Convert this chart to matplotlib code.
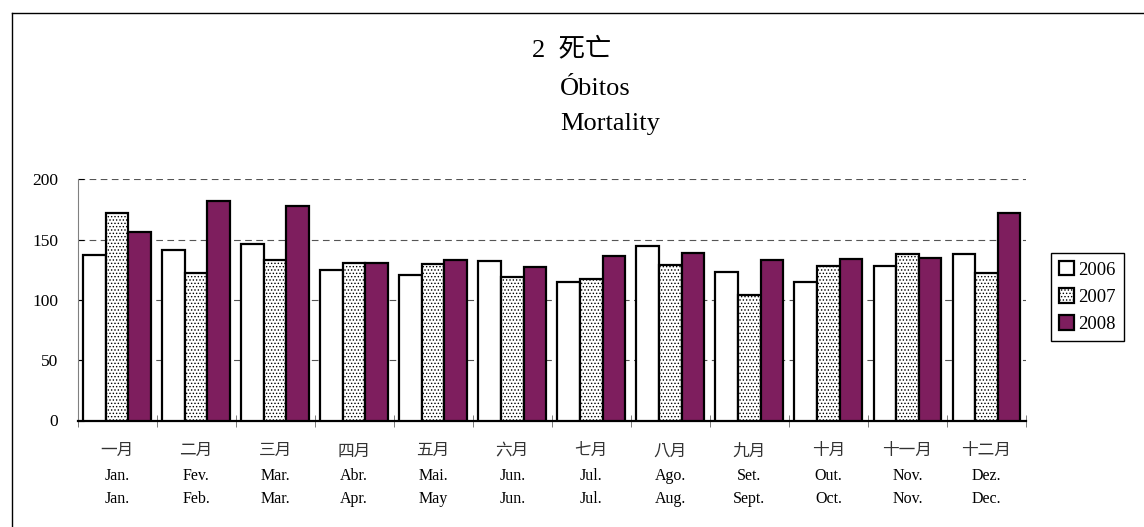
import matplotlib
matplotlib.use('Agg')
import matplotlib.pyplot as plt
from matplotlib.lines import Line2D
import numpy as np

plt.rcParams['font.family'] = ['Liberation Serif', 'Noto Sans CJK TC']
plt.rcParams['hatch.linewidth'] = 0.6

############################## Datos ##############################
meses_zh = ['一月', '二月', '三月', '四月', '五月', '六月',
            '七月', '八月', '九月', '十月', '十一月', '十二月']
meses_pt = ['Jan.', 'Fev.', 'Mar.', 'Abr.', 'Mai.', 'Jun.',
            'Jul.', 'Ago.', 'Set.', 'Out.', 'Nov.', 'Dez.']
meses_en = ['Jan.', 'Feb.', 'Mar.', 'Apr.', 'May', 'Jun.',
            'Jul.', 'Aug.', 'Sept.', 'Oct.', 'Nov.', 'Dec.']
anos = ['2006', '2007', '2008']
v2006 = [137, 141, 146, 125, 121, 132, 115, 145, 123, 115, 128, 138]
v2007 = [172, 122, 133, 131, 130, 119, 117, 129, 104, 128, 138, 122]
v2008 = [156, 182, 178, 131, 133, 127, 136, 139, 133, 134, 135, 172]
yticks = [0, 50, 100, 150, 200]

############################## Figura ##############################
fig = plt.figure(figsize=(11.44, 5.27), dpi=100)
ax = fig.add_axes([77.5/1144, 106.5/527, (1026-77.5)/1144, 241.2/527])

x = np.arange(len(meses_zh))
w = 0.286
estilos = [dict(color='white', hatch=None),
           dict(color='white', hatch='.....'),
           dict(color='#7E1E5E', hatch=None)]
for k, (vals, est) in enumerate(zip([v2006, v2007, v2008], estilos)):
    ax.bar(x + (k-1)*w, vals, w, color=est['color'], hatch=est['hatch'],
           edgecolor='black', linewidth=1.6, label=anos[k], zorder=3)

ax.set_xlim(-0.5, len(x)-0.5)
ax.set_ylim(0, 200)
ax.set_yticks(yticks)
ax.tick_params(axis='y', direction='in', length=4, labelsize=12.5, pad=14)
ax.yaxis.grid(True, linestyle=(0, (6, 4)), color='#555555', linewidth=0.8, zorder=0)

ax.set_xticks(x)
ax.set_xticklabels([])
ax.tick_params(axis='x', which='major', length=0)
ax.set_xticks(np.arange(-0.5, len(x)), minor=True)
ax.tick_params(axis='x', which='minor', direction='inout', length=9, color='#666666')

for s in ['top', 'right']:
    ax.spines[s].set_visible(False)
ax.spines['left'].set_color('#808080')
ax.spines['bottom'].set_linewidth(1.6)

tr = ax.get_xaxis_transform()
for i in range(len(x)):
    ax.text(x[i], -0.126, meses_zh[i], transform=tr, ha='center', va='center',
            fontsize=12, color='#333333', fontfamily=['Noto Sans CJK TC'])
    ax.text(x[i], -0.247, meses_pt[i], transform=tr, ha='center', va='baseline', fontsize=11.5)
    ax.text(x[i], -0.342, meses_en[i], transform=tr, ha='center', va='baseline', fontsize=11.5)

ax.legend(loc='upper left', bbox_to_anchor=(1050.7/1144, 1-252.7/527),
          bbox_transform=fig.transFigure, borderaxespad=0, fancybox=False,
          edgecolor='black', framealpha=1, fontsize=13.5, handlelength=0.8,
          handleheight=0.8, handletextpad=0.2, labelspacing=0.5,
          borderpad=0.45)

############################## Titulo ##############################
fig.text(532/1144, 1-56.7/527, '2  死亡', fontsize=19, va='baseline', ha='left')
fig.text(560/1144, 1-95/527, 'Óbitos', fontsize=19, va='baseline', ha='left')
fig.text(560/1144, 1-130/527, 'Mortality', fontsize=19, va='baseline', ha='left')

# borde exterior
fig.add_artist(Line2D([12/1144, 12/1144], [0, 1-13/527], color='black', linewidth=1.0))
fig.add_artist(Line2D([12/1144, 1], [1-13/527, 1-13/527], color='black', linewidth=1.0))

fig.savefig('out.png', dpi=100)
